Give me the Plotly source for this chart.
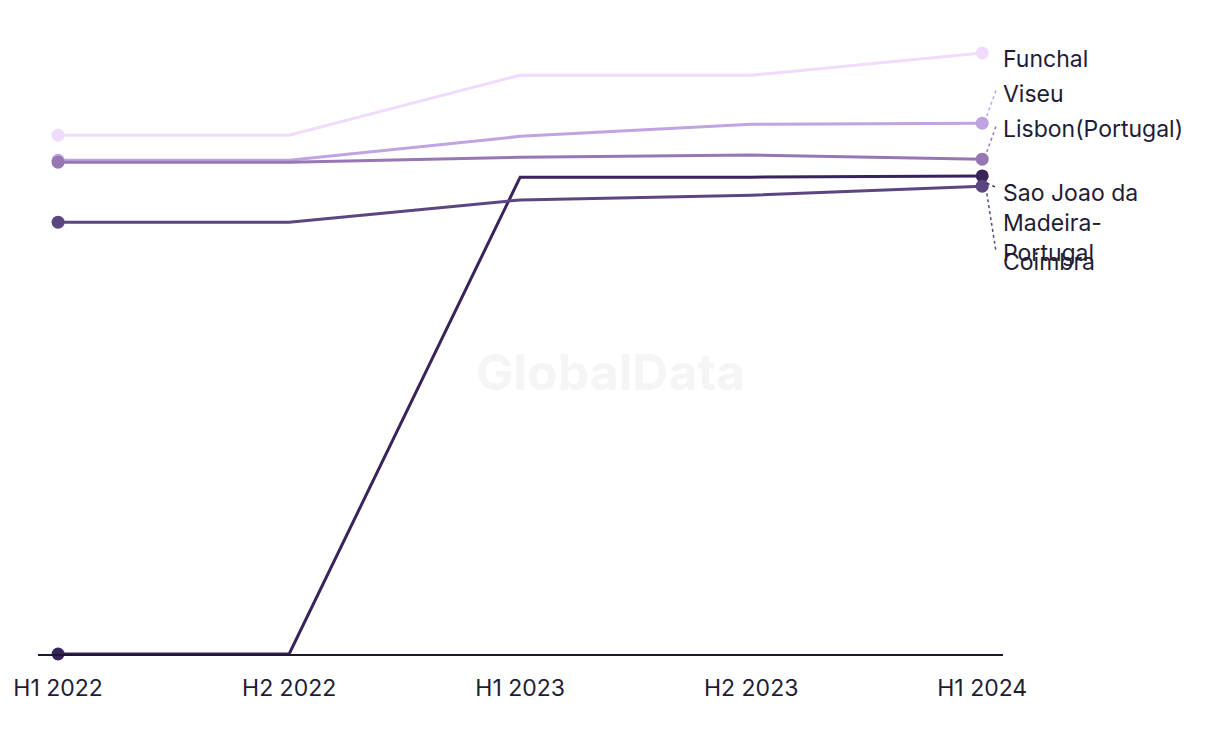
import plotly.graph_objects as go

periods = ["H1 2022", "H2 2022", "H1 2023", "H2 2023", "H1 2024"]
funchal = [86.5, 86.5, 96.5, 96.5, 100.2]
viseu = [82.3, 82.3, 86.3, 88.3, 88.5]
lisbon = [82.0, 82.0, 82.8, 83.2, 82.5]
sao_joao = [0.0, 0.0, 79.5, 79.5, 79.7]
coimbra = [72.0, 72.0, 75.7, 76.5, 78.0]

series = [
    ("Funchal", funchal, "#f0dbfd"),
    ("Viseu", viseu, "#c0a3e3"),
    ("Lisbon(Portugal)", lisbon, "#9677b4"),
    ("Sao Joao da<br>Madeira-<br>Portugal", sao_joao, "#38245a"),
    ("Coimbra", coimbra, "#5c4680"),
]

# label placement (value units) and leader settings
label_pos = {
    "Funchal": (99.2, "middle", False),
    "Viseu": (93.3, "middle", True),
    "Lisbon(Portugal)": (87.6, "middle", True),
    "Sao Joao da<br>Madeira-<br>Portugal": (79.6, "top", True),
    "Coimbra": (65.3, "middle", True),
}
leader_end = {
    "Viseu": 94.0,
    "Lisbon(Portugal)": 88.0,
    "Sao Joao da<br>Madeira-<br>Portugal": 77.8,
    "Coimbra": 67.0,
}

FONT = "Inter, sans-serif"
xi = list(range(len(periods)))
fig = go.Figure()
for name, vals, color in series:
    fig.add_trace(go.Scatter(
        x=xi, y=vals, mode="lines", name=name,
        line=dict(color=color, width=3), cliponaxis=False,
        hoverinfo="skip",
    ))
for name, vals, color in series:
    fig.add_trace(go.Scatter(
        x=[xi[0], xi[-1]], y=[vals[0], vals[-1]], mode="markers",
        marker=dict(color=color, size=13), cliponaxis=False,
        hoverinfo="skip", showlegend=False,
    ))

last = xi[-1]
for name, vals, color in series:
    ly, anchor, lead = label_pos[name]
    fig.add_annotation(
        x=last + 0.08, y=ly, xref="x", yref="y", text=name, showarrow=False,
        xanchor="left", yanchor=anchor, align="left",
        font=dict(family=FONT, size=23, color="#1f1c35"),
    )
    if lead:
        fig.add_shape(
            type="line", xref="x", yref="y",
            x0=last + 0.02, y0=vals[-1] + (1 if leader_end[name] > vals[-1] else -1) * 1.2,
            x1=last + 0.06, y1=leader_end[name],
            line=dict(color=color, width=1.5, dash="dot"),
        )

fig.add_annotation(
    x=0.593, y=0.445, xref="paper", yref="paper", text="<b>GlobalData</b>",
    showarrow=False, font=dict(family=FONT, size=50, color="#f5f5f6"),
)

fig.update_layout(
    width=1220, height=744,
    margin=dict(l=38, r=217, t=20, b=90),
    paper_bgcolor="white", plot_bgcolor="white",
    showlegend=False,
    xaxis=dict(
        range=[-0.087, 4.09], tickvals=xi, ticktext=periods,
        showgrid=False, zeroline=False, showline=True, linecolor="#1a1a2e", linewidth=1.5,
        ticks="outside", ticklen=13, tickcolor="rgba(0,0,0,0)",
        tickfont=dict(family=FONT, size=23, color="#1f1c35"),
    ),
    yaxis=dict(range=[0, 105.7], visible=False, showgrid=False, zeroline=False),
)

fig.write_html("out.html")
